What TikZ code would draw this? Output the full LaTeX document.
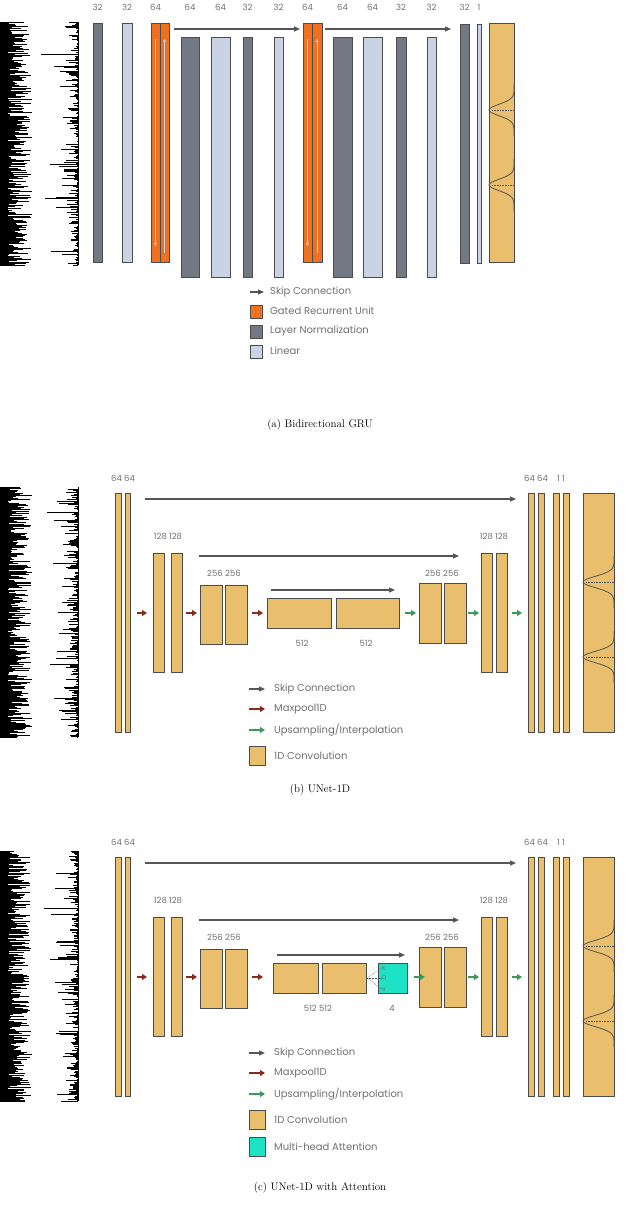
\documentclass[tikz,border=0pt]{standalone}
\usepackage{fontspec}
\newfontfamily\pop{Poppins}
\usetikzlibrary{arrows.meta}
\definecolor{gold}{HTML}{E9BF6D}
\definecolor{dgray}{HTML}{727985}
\definecolor{lgray}{HTML}{C9D3E3}
\definecolor{orng}{HTML}{F07020}
\definecolor{teal}{HTML}{1DE2C6}
\definecolor{agray}{HTML}{555555}
\definecolor{ared}{HTML}{8B2A1A}
\definecolor{agreen}{HTML}{3A9A5A}
\definecolor{tgray}{HTML}{707070}
\newcommand\mybar[6]{\node[box,#6,minimum width={#4-#2},minimum height={#5-#3}] (#1) at ({(#2+#4)/2},{(#3+#5)/2}) {};}
\newcommand\signal[3]{% seed, ytop, ybot
 \pgfmathsetseed{#1}
 \foreach \yy in {#2,...,#3}{
  \pgfmathsetmacro\w{8+24*rnd}
  \pgfmathsetmacro\v{78-40*rnd*rnd*rnd}
  \draw[line width=0.9pt] (0,\yy) -- (\w,\yy);
  \draw[line width=0.9pt] (78,\yy) -- (\v,\yy);
 }
 \draw[line width=0.6pt] (78,#2) -- (78,#3);
}
\newcommand\outcurve[5]{% x1 x2 ytop ybot ; peaks #5 = {yc1,yc2}
 \foreach \yc in {#5}{
  \draw[agray,line width=0.8pt,domain=-26:26,samples=50,smooth] plot ({#2-(#2-#1)*exp(-(\x/8)^2)},{\yc+\x});
  \draw[agray,densely dotted,line width=0.6pt] ({#1+3},\yc) -- (#2,\yc);
 }
}
\begin{document}
\begin{tikzpicture}[x=1pt,y=-1pt,
 box/.style={draw=black!70,line width=0.6pt,inner sep=0,outer sep=0,rectangle},
 dk/.style={fill=dgray},lt/.style={fill=lgray},gr/.style={fill=orng},gd/.style={fill=gold},att/.style={fill=teal},
 lab/.style={font=\pop\fontsize{8.5}{9}\selectfont,text=tgray,inner sep=0},
 leg/.style={font=\pop\fontsize{10}{11}\selectfont,text=tgray,anchor=west,inner sep=0},
 skip/.style={agray,line width=1.2pt,-{Triangle[length=6pt,width=5pt]}},
 mp/.style={ared,line width=1.2pt,-{Triangle[length=5pt,width=6pt]}},
 up/.style={agreen,line width=1.2pt,-{Triangle[length=5pt,width=6pt]}},
 capt/.style={font=\fontsize{11}{13}\selectfont,inner sep=0}]
\useasboundingbox (0,0) rectangle (640,1220);
% ================= (a)
\signal{11}{22}{265}
\mybar{a1}{93}{23}{102}{262}{dk}
\mybar{a2}{122}{23}{132}{262}{lt}
\mybar{a3}{151}{23}{160}{262}{gr}
\mybar{a4}{160}{23}{169}{262}{gr}
\mybar{a5}{181}{37}{199}{277}{dk}
\mybar{a6}{211}{37}{230}{277}{lt}
\mybar{a7}{243}{37}{252}{277}{dk}
\mybar{a8}{274}{37}{283}{277}{lt}
\mybar{a9}{303}{23}{312}{262}{gr}
\mybar{a10}{312}{23}{322}{262}{gr}
\mybar{a11}{333}{37}{352}{277}{dk}
\mybar{a12}{363}{37}{382}{277}{lt}
\mybar{a13}{396}{37}{406}{277}{dk}
\mybar{a14}{427}{37}{436}{277}{lt}
\mybar{a15}{460}{24}{469}{263}{dk}
\mybar{a16}{477}{24}{481}{263}{lt}
\mybar{a17}{489}{23}{514}{262}{gd}
\outcurve{489}{514}{23}{262}{110,185}
\foreach \n/\t in {a1/32,a2/32,a3/64,a5/64,a6/64,a7/32,a8/32,a9/64,a11/64,a12/64,a13/32,a14/32,a15/32,a16/1}
 \node[lab] at (\n.north |- 0,7) {\t};
\foreach \n in {a3,a9}{
 \draw[lgray,line width=0.7pt,-{Triangle[length=3pt,width=3pt]}] ([yshift=-16pt]\n.north) -- ([yshift=16pt]\n.south);}
\foreach \n in {a4,a10}{
 \draw[lgray,line width=0.7pt,-{Triangle[length=3pt,width=3pt]}] ([yshift=9pt]\n.south) -- ([yshift=-16pt]\n.north);}
\coordinate (s1) at (174,29); \coordinate (e1) at (300,29);
\coordinate (s2) at (325,29); \coordinate (e2) at (451,29);
\draw[skip] (s1) -- (e1); \draw[skip] (s2) -- (e2);
% legend a
\coordinate (la) at (250,292); \coordinate (lb) at (264,292);
\draw[skip] (la) -- (lb); \node[leg] at (270,292) {Skip Connection};
\mybar{la1}{250}{305}{262}{318}{gr} \node[leg] at (270,311) {Gated Recurrent Unit};
\mybar{la2}{250}{325}{262}{338}{dk} \node[leg] at (270,331) {Layer Normalization};
\mybar{la3}{250}{345}{262}{358}{lt} \node[leg] at (270,351) {Linear};
\node[capt] at (320,425) {(a) Bidirectional GRU};
% ================= (b) and (c)
\foreach \o/\at/\sd in {0/0/5,364/1/9}{
\begin{scope}[yshift=-\o pt]
\signal{\sd}{487}{737}
\mybar{b1}{115}{493}{121}{732}{gd}
\mybar{b2}{125}{493}{130}{732}{gd}
\mybar{b3}{153}{553}{164}{672}{gd}
\mybar{b4}{171}{553}{182}{672}{gd}
\mybar{b5}{200}{585}{222}{644}{gd}
\mybar{b6}{225}{585}{247}{644}{gd}
\mybar{b9}{419}{583}{441}{643}{gd}
\mybar{b10}{444}{583}{466}{643}{gd}
\mybar{b11}{481}{553}{492}{672}{gd}
\mybar{b12}{496}{553}{507}{672}{gd}
\mybar{b13}{528}{493}{534}{732}{gd}
\mybar{b14}{538}{493}{544}{732}{gd}
\mybar{b15}{553}{493}{559}{732}{gd}
\mybar{b16}{563}{493}{569}{732}{gd}
\mybar{b17}{583}{493}{614}{732}{gd}
\outcurve{583}{614}{493}{732}{582,657}
\node[lab] at (123,478) {64 64};
\node[lab] at (168,536) {128 128};
\node[lab] at (224,573) {256 256};
\node[lab] at (442,573) {256 256};
\node[lab] at (494,536) {128 128};
\node[lab] at (536,478) {64 64};
\node[lab] at (561,478) {1 1};
\coordinate (k1) at (145,499); \coordinate (k2) at (516,499);
\coordinate (k3) at (199,556); \coordinate (k4) at (459,556);
\draw[skip] (k1) -- (k2); \draw[skip] (k3) -- (k4);
\coordinate (m1) at (137,613); \coordinate (m2) at (147,613);
\coordinate (m3) at (186,613); \coordinate (m4) at (197,613);
\coordinate (m5) at (252,613); \coordinate (m6) at (263,613);
\draw[mp] (m1) -- (m2); \draw[mp] (m3) -- (m4); \draw[mp] (m5) -- (m6);
\coordinate (u3) at (468,613); \coordinate (u4) at (479,613);
\coordinate (u5) at (512,613); \coordinate (u6) at (522,613);
\draw[up] (u3) -- (u4); \draw[up] (u5) -- (u6);
\ifnum\at=0
 \mybar{b7}{267}{598}{331}{628}{gd}
 \mybar{b8}{336}{598}{399}{628}{gd}
 \node[lab] at (302,643) {512}; \node[lab] at (366,643) {512};
 \coordinate (k5) at (271,590); \coordinate (k6) at (395,590);
 \draw[skip] (k5) -- (k6);
 \coordinate (u1) at (405,613); \coordinate (u2) at (416,613);
 \draw[up] (u1) -- (u2);
\else
 \mybar{b7}{273}{599}{318}{629}{gd}
 \mybar{b8}{322}{599}{366}{629}{gd}
 \mybar{b19}{378}{599}{407}{629}{att}
 \node[lab] at (318,644) {512 512}; \node[lab] at (392,644) {4};
 \node[lab,font=\pop\fontsize{6}{6}\selectfont] (kk) at (384,604) {K};
 \node[lab,font=\pop\fontsize{6}{6}\selectfont] (qq) at (384,614) {Q};
 \node[lab,font=\pop\fontsize{6}{6}\selectfont] (vv) at (384,625) {V};
 \coordinate (dq) at (367,614);
 \foreach \t in {kk,qq,vv} \draw[black!70,densely dotted,line width=0.5pt] (dq) -- (\t.west);
 \coordinate (k5) at (277,591); \coordinate (k6) at (405,591);
 \draw[skip] (k5) -- (k6);
 \coordinate (u1) at (414,613); \coordinate (u2) at (425,613);
 \draw[up] (u1) -- (u2);
\fi
% legend
\coordinate (l1) at (249,689); \coordinate (l2) at (265,689);
\draw[skip] (l1) -- (l2); \node[leg] at (274,689) {Skip Connection};
\coordinate (l3) at (249,709); \coordinate (l4) at (265,709);
\draw[mp] (l3) -- (l4); \node[leg] at (274,709) {Maxpool1D};
\coordinate (l5) at (249,730); \coordinate (l6) at (265,730);
\draw[up] (l5) -- (l6); \node[leg] at (274,730) {Upsampling/Interpolation};
\mybar{lb1}{249}{746}{265}{765}{gd} \node[leg] at (274,756) {1D Convolution};
\ifnum\at=1
 \mybar{lb2}{249}{773}{265}{792}{att} \node[leg] at (274,783) {Multi-head Attention};
\fi
\end{scope}}
\node[capt] at (320,790) {(b) UNet-1D};
\node[capt] at (320,1188) {(c) UNet-1D with Attention};
\end{tikzpicture}
\end{document}
